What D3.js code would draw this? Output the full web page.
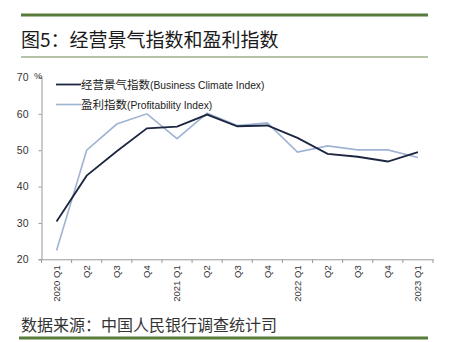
<!DOCTYPE html>
<html><head><meta charset="utf-8">
<script src="https://cdn.jsdelivr.net/npm/d3@7"></script>
<style>
html,body{margin:0;padding:0;background:#fff;}
svg{display:block;}
</style></head>
<body><svg id="c" width="449" height="342"></svg>
<script>
const categories = ["2020 Q1","Q2","Q3","Q4","2021 Q1","Q2","Q3","Q4","2022 Q1","Q2","Q3","Q4","2023 Q1"];
const businessClimate = [30.4, 43.0, 49.7, 56.0, 56.5, 59.8, 56.6, 56.8, 53.4, 49.0, 48.2, 46.9, 49.5];
const profitability = [22.4, 50.0, 57.2, 60.0, 53.2, 60.2, 56.8, 57.5, 49.5, 51.2, 50.1, 50.1, 48.0];
const yTicks = [20, 30, 40, 50, 60, 70];
const seriesNames = ["经营景气指数(Business Climate Index)", "盈利指数(Profitability Index)"];
const titleText = "图5：经营景气指数和盈利指数";
const sourceText = "数据来源：中国人民银行调查统计司";

const svg = d3.select("#c");
const green = "#587a3a";
const CJK = "'Noto Sans CJK SC', 'Noto Sans', sans-serif";
const LAT = "'Liberation Sans', Arial, sans-serif";

// frame lines
svg.append("rect").attr("x",21).attr("y",13.5).attr("width",407).attr("height",3).attr("fill",green);
svg.append("rect").attr("x",21).attr("y",56.5).attr("width",407).attr("height",1).attr("fill","#6c8a50");
svg.append("rect").attr("x",19).attr("y",336.5).attr("width",409).attr("height",3).attr("fill",green);

svg.append("text").attr("x",21).attr("y",47).attr("font-family",CJK).attr("font-size",19)
  .attr("fill","#1a1a1a").text(titleText);
svg.append("text").attr("x",21).attr("y",331).attr("font-family",CJK).attr("font-size",16)
  .attr("fill","#333").text(sourceText);

const idx = d3.range(categories.length);
const x = d3.scaleBand().domain(idx).range([41.5, 433]).paddingInner(0).paddingOuter(0);
const y = d3.scaleLinear().domain([20,70]).range([259.3, 77.5]);

// y axis
const yAxis = svg.append("g").attr("transform","translate(41.5,0)")
  .call(d3.axisLeft(y).tickValues(yTicks).tickSize(3).tickPadding(10).tickFormat(d3.format("d")));
yAxis.select(".domain").attr("stroke","#999");
yAxis.selectAll(".tick line").attr("stroke","#999");
yAxis.selectAll("text").attr("font-family",LAT).attr("font-size",10.5).attr("fill","#333");

svg.append("text").attr("x",34).attr("y",79).attr("font-family",LAT).attr("font-size",9.5)
  .attr("fill","#333").text("%");

// x axis
const xAxis = svg.append("g").attr("transform","translate(0,259.3)")
  .call(d3.axisBottom(x).tickSize(0).tickPadding(0).tickFormat(i=>categories[i]));
xAxis.select(".domain").attr("stroke","#999");
xAxis.selectAll(".tick text").attr("transform","rotate(-90)").attr("text-anchor","end")
  .attr("x",-6).attr("y",0).attr("dy","0.35em")
  .attr("font-family",LAT).attr("font-size",9.5).attr("fill","#333");
// boundary ticks
const bounds = idx.map(i=>x(i)).concat([x(idx[idx.length-1])+x.bandwidth()]);
svg.append("g").selectAll("line").data(bounds).join("line")
  .attr("x1",d=>d).attr("x2",d=>d).attr("y1",259.3).attr("y2",263).attr("stroke","#999");

const cx = i => x(i) + x.bandwidth()/2;
const line = d3.line().x((d,i)=>cx(i)).y(d=>y(d));

svg.append("path").datum(profitability).attr("d",line).attr("fill","none")
  .attr("stroke","#9fb3d3").attr("stroke-width",1.6);
svg.append("path").datum(businessClimate).attr("d",line).attr("fill","none")
  .attr("stroke","#1c2640").attr("stroke-width",1.8);

// legend
const leg = [{c:"#1c2640",w:1.8,y:84.5},{c:"#9fb3d3",w:1.6,y:104.5}];
leg.forEach((l,i)=>{
  svg.append("line").attr("x1",56).attr("x2",81).attr("y1",l.y).attr("y2",l.y)
    .attr("stroke",l.c).attr("stroke-width",l.w);
  const parts = seriesNames[i].split("(");
  const t = svg.append("text").attr("x",81).attr("y",l.y+4).attr("fill","#222");
  t.append("tspan").attr("font-family",CJK).attr("font-size",11.5).text(parts[0]);
  t.append("tspan").attr("font-family",LAT).attr("font-size",10.3).text("("+parts[1]);
});
</script></body></html>
